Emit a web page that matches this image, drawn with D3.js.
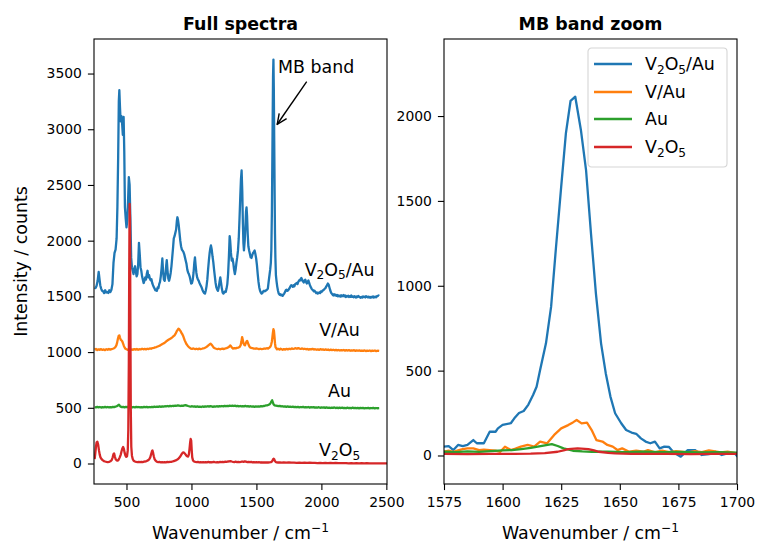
<!DOCTYPE html>
<html>
<head>
<meta charset="utf-8">
<script src="https://cdn.jsdelivr.net/npm/d3@7"></script>
<style>
  body { margin: 0; background: #fff; }
  text { font-family: "DejaVu Sans", sans-serif; }
</style>
</head>
<body>
<div id="chart"></div>
<script>
// series names, colours and stacking offsets used in the full-spectra panel
var seriesNames = ["V2O5/Au", "V/Au", "Au", "V2O5"];
var colors = ["#1f77b4", "#ff7f0e", "#2ca02c", "#d62728"];
var offsets = [1500, 1000, 500, 0];
var labelY = [1740, 1200, 650, 120];

var leftXTicks = [500, 1000, 1500, 2000, 2500];
var leftYTicks = [0, 500, 1000, 1500, 2000, 2500, 3000, 3500];
var rightXTicks = [1575, 1600, 1625, 1650, 1675, 1700];
var rightYTicks = [0, 500, 1000, 1500, 2000];

// raw spectra [wavenumber, counts]
var v2o5AuFull = [[255,80],[262,75],[270,95],[278,140],[286,220],[292,160],[298,100],[305,70],[312,50],[320,45],[328,30],[336,55],[344,35],[352,40],[360,30],[368,55],[376,40],[384,60],[392,110],[400,300],[408,390],[416,420],[424,520],[430,800],[436,1250],[441,1750],[445,1850],[450,1700],[455,1570],[460,1620],[466,1560],[472,1450],[478,1610],[483,1300],[488,800],[494,700],[500,620],[506,680],[512,850],[518,1070],[524,1000],[530,700],[536,350],[542,260],[548,230],[554,200],[560,250],[566,270],[572,220],[578,180],[584,200],[590,290],[596,480],[602,380],[608,260],[614,230],[620,180],[626,150],[632,120],[638,140],[644,170],[650,150],[656,200],[662,230],[668,170],[674,190],[680,160],[686,145],[692,155],[698,120],[704,100],[710,85],[716,70],[722,55],[728,60],[734,50],[740,80],[746,75],[752,110],[758,130],[764,180],[770,250],[776,340],[782,220],[788,150],[794,140],[800,190],[806,280],[810,325],[816,230],[822,160],[828,140],[834,170],[840,210],[846,270],[852,350],[858,430],[864,520],[870,540],[876,570],[882,600],[888,680],[892,710],[896,690],[902,640],[908,570],[914,500],[920,450],[926,420],[932,410],[938,400],[944,380],[950,350],[956,320],[962,290],[968,240],[974,215],[980,200],[986,180],[992,150],[998,115],[1004,120],[1010,150],[1016,210],[1022,300],[1027,350],[1032,280],[1038,210],[1044,170],[1050,150],[1056,140],[1062,120],[1068,105],[1074,90],[1080,75],[1086,55],[1092,40],[1098,30],[1104,25],[1110,50],[1116,90],[1122,150],[1128,240],[1134,320],[1140,390],[1145,430],[1150,457],[1156,420],[1162,360],[1168,310],[1174,240],[1180,180],[1186,120],[1192,80],[1198,60],[1204,50],[1210,80],[1216,130],[1222,170],[1228,120],[1234,70],[1240,35],[1246,25],[1252,35],[1258,45],[1264,40],[1270,70],[1276,110],[1282,200],[1288,350],[1294,540],[1298,500],[1304,390],[1310,320],[1316,340],[1322,300],[1328,240],[1334,200],[1340,240],[1346,300],[1352,350],[1358,410],[1364,520],[1370,700],[1376,900],[1381,1050],[1386,1130],[1391,950],[1396,650],[1400,480],[1404,412],[1410,500],[1416,650],[1420,760],[1424,798],[1428,720],[1433,560],[1438,450],[1444,412],[1450,380],[1456,350],[1462,345],[1468,370],[1474,390],[1480,400],[1486,412],[1492,380],[1498,340],[1504,280],[1510,200],[1516,130],[1522,80],[1528,50],[1534,35],[1540,25],[1546,30],[1552,45],[1558,50],[1564,45],[1570,50],[1576,55],[1582,60],[1588,70],[1594,130],[1600,185],[1606,240],[1611,300],[1615,420],[1619,750],[1622,1150],[1625,1580],[1628,1980],[1631,2125],[1634,1850],[1637,1400],[1640,950],[1643,560],[1646,350],[1650,190],[1655,135],[1660,90],[1666,50],[1672,25],[1678,15],[1684,20],[1690,10],[1696,15],[1702,5],[1708,15],[1714,25],[1720,40],[1726,55],[1732,60],[1738,50],[1744,55],[1750,65],[1756,75],[1762,90],[1768,100],[1774,95],[1780,85],[1786,100],[1792,90],[1798,110],[1804,115],[1810,120],[1816,110],[1822,130],[1828,140],[1834,150],[1840,145],[1846,165],[1852,150],[1858,135],[1864,125],[1870,140],[1876,150],[1882,130],[1888,115],[1894,130],[1900,143],[1906,120],[1912,100],[1918,85],[1924,70],[1930,60],[1936,55],[1942,45],[1948,50],[1954,40],[1960,30],[1966,35],[1972,25],[1978,30],[1984,35],[1990,30],[1996,45],[2002,40],[2008,50],[2014,55],[2020,60],[2026,70],[2032,75],[2038,90],[2044,100],[2050,115],[2056,105],[2062,80],[2068,55],[2074,35],[2080,25],[2086,15],[2092,8],[2098,20],[2104,10],[2110,15],[2116,5],[2122,12],[2128,0],[2134,8],[2140,5],[2146,-2],[2152,10],[2158,0],[2164,5],[2170,12],[2176,0],[2182,8],[2188,-5],[2194,3],[2200,-2],[2206,6],[2212,-6],[2218,2],[2224,-3],[2230,8],[2236,-4],[2242,0],[2248,-8],[2254,2],[2260,-5],[2266,-10],[2272,0],[2278,-6],[2284,3],[2290,-2],[2296,-8],[2302,-12],[2308,-5],[2314,-10],[2320,0],[2326,-6],[2332,-3],[2338,-10],[2344,2],[2350,-4],[2356,-8],[2362,-2],[2368,-10],[2374,-5],[2380,-12],[2386,-4],[2392,-8],[2398,0],[2404,-10],[2410,-6],[2416,-2],[2422,-8],[2428,3],[2434,5],[2440,8],[2445,4]];

var vAuFull = [[255,22],[265,28],[275,18],[285,25],[295,20],[305,27],[315,19],[325,24],[335,17],[345,26],[355,21],[365,28],[375,22],[385,26],[395,30],[405,35],[415,45],[422,60],[428,85],[434,120],[440,145],[445,150],[450,130],[456,110],[462,105],[468,95],[474,75],[480,55],[486,40],[492,30],[500,25],[510,20],[520,26],[530,18],[540,24],[550,20],[560,27],[570,22],[580,28],[590,21],[600,26],[610,24],[620,30],[630,25],[640,28],[650,24],[660,30],[670,27],[680,33],[690,30],[700,36],[710,38],[720,42],[730,45],[740,50],[750,55],[760,60],[770,68],[780,75],[790,80],[800,90],[810,100],[820,108],[830,115],[840,122],[850,130],[860,140],[870,150],[878,165],[886,185],[894,200],[900,210],[906,205],[912,195],[918,185],[924,170],[930,160],[936,145],[942,125],[948,105],[954,90],[960,75],[966,65],[972,55],[980,45],[988,38],[996,30],[1004,28],[1012,33],[1020,30],[1030,26],[1040,30],[1050,25],[1060,31],[1070,27],[1080,30],[1090,34],[1100,36],[1110,42],[1120,50],[1130,60],[1140,70],[1147,75],[1154,68],[1162,55],[1170,42],[1180,35],[1190,30],[1200,27],[1210,30],[1220,25],[1230,28],[1240,31],[1250,27],[1260,33],[1270,36],[1280,40],[1290,48],[1298,60],[1305,52],[1312,40],[1320,32],[1330,35],[1340,33],[1350,38],[1360,40],[1370,45],[1378,60],[1384,90],[1390,135],[1395,110],[1400,80],[1406,65],[1412,60],[1418,80],[1424,95],[1429,100],[1434,85],[1440,65],[1446,50],[1452,42],[1460,38],[1470,35],[1480,32],[1490,30],[1500,34],[1510,30],[1520,26],[1530,30],[1540,27],[1550,29],[1560,32],[1570,30],[1580,35],[1590,32],[1600,40],[1608,50],[1614,70],[1619,95],[1623,135],[1627,175],[1631,205],[1635,190],[1639,140],[1643,80],[1647,45],[1652,35],[1658,25],[1664,30],[1670,28],[1678,22],[1686,30],[1694,25],[1702,20],[1712,27],[1722,22],[1732,29],[1742,24],[1752,30],[1762,26],[1772,33],[1782,28],[1792,31],[1802,35],[1812,30],[1822,36],[1832,31],[1842,28],[1852,33],[1862,27],[1872,30],[1882,25],[1892,28],[1902,22],[1912,27],[1922,24],[1932,29],[1942,23],[1952,26],[1962,21],[1972,25],[1982,20],[1992,26],[2002,22],[2012,25],[2022,19],[2032,24],[2042,20],[2052,23],[2062,17],[2072,22],[2082,18],[2092,21],[2102,16],[2112,20],[2122,15],[2132,19],[2142,14],[2152,18],[2162,15],[2172,19],[2182,13],[2192,17],[2202,14],[2212,18],[2222,12],[2232,16],[2242,13],[2252,17],[2262,11],[2272,15],[2282,12],[2292,16],[2302,10],[2312,14],[2322,11],[2332,15],[2342,9],[2352,13],[2362,10],[2372,14],[2382,9],[2392,13],[2402,10],[2412,14],[2422,9],[2432,12],[2445,10]];

var auFull = [[255,6],[265,3],[275,8],[285,4],[295,7],[305,2],[315,6],[325,3],[335,8],[345,4],[355,7],[365,3],[375,6],[385,4],[395,8],[405,6],[415,10],[425,14],[435,22],[442,27],[448,18],[455,10],[465,6],[475,9],[485,4],[495,8],[505,5],[515,10],[525,6],[535,9],[545,4],[555,7],[565,3],[575,8],[585,5],[595,7],[605,3],[615,6],[625,4],[635,8],[645,5],[655,9],[665,4],[675,7],[685,5],[695,9],[705,6],[715,10],[725,7],[735,11],[745,8],[755,12],[765,9],[775,13],[785,10],[795,14],[805,12],[815,16],[825,13],[835,17],[845,14],[855,18],[865,16],[875,20],[885,18],[895,22],[905,19],[915,16],[925,20],[935,17],[945,21],[955,24],[965,20],[975,16],[985,13],[995,11],[1005,14],[1015,10],[1025,13],[1035,9],[1045,12],[1055,8],[1065,11],[1075,7],[1085,12],[1095,9],[1105,13],[1115,10],[1125,14],[1135,11],[1145,15],[1155,12],[1165,9],[1175,13],[1185,10],[1195,14],[1205,11],[1215,15],[1225,12],[1235,16],[1245,13],[1255,17],[1265,14],[1275,18],[1285,15],[1295,19],[1305,16],[1315,20],[1325,16],[1335,19],[1345,14],[1355,17],[1365,13],[1375,16],[1385,12],[1395,15],[1405,13],[1415,17],[1425,12],[1435,15],[1445,11],[1455,14],[1465,10],[1475,13],[1485,9],[1495,12],[1505,10],[1515,13],[1525,11],[1535,15],[1545,12],[1555,16],[1565,18],[1575,22],[1585,22],[1595,28],[1603,32],[1610,45],[1616,58],[1621,67],[1626,50],[1632,30],[1640,22],[1650,20],[1660,18],[1670,15],[1680,17],[1690,12],[1700,14],[1710,10],[1720,13],[1730,9],[1740,12],[1750,8],[1760,11],[1770,7],[1780,10],[1790,6],[1800,9],[1810,5],[1820,8],[1830,4],[1840,7],[1850,5],[1860,8],[1870,3],[1880,6],[1890,4],[1900,7],[1910,2],[1920,5],[1930,3],[1940,6],[1950,1],[1960,4],[1970,2],[1980,5],[1990,0],[2000,3],[2010,1],[2020,4],[2030,-1],[2040,3],[2050,0],[2060,2],[2070,-2],[2080,2],[2090,-1],[2100,3],[2110,-2],[2120,1],[2130,-3],[2140,1],[2150,-2],[2160,2],[2170,-3],[2180,0],[2190,-4],[2200,1],[2210,-2],[2220,0],[2230,-4],[2240,1],[2250,-3],[2260,0],[2270,-4],[2280,-1],[2290,-5],[2300,0],[2310,-3],[2320,-1],[2330,-5],[2340,-2],[2350,-4],[2360,0],[2370,-5],[2380,-2],[2390,-4],[2400,-1],[2410,-5],[2420,-2],[2430,-4],[2445,-3]];

var v2o5Full = [[255,40],[260,90],[265,150],[270,190],[276,195],[282,170],[288,120],[294,80],[300,55],[308,40],[316,30],[326,22],[336,18],[346,15],[356,13],[366,15],[376,20],[386,30],[394,55],[400,85],[405,90],[410,65],[416,40],[424,28],[432,25],[440,35],[448,55],[456,80],[462,110],[468,135],[474,148],[480,130],[486,95],[492,70],[498,60],[504,65],[510,120],[514,300],[518,900],[521,1700],[524,2330],[527,2200],[530,1300],[533,500],[537,150],[542,70],[548,40],[555,25],[565,18],[575,14],[585,12],[595,14],[605,12],[615,15],[625,13],[635,16],[645,18],[655,22],[665,28],[675,38],[683,55],[690,85],[696,110],[700,117],[705,95],[710,65],[716,40],[724,25],[734,16],[744,12],[754,14],[764,11],[774,13],[784,10],[794,12],[804,11],[814,14],[824,12],[834,15],[844,14],[854,18],[864,22],[874,26],[884,30],[894,38],[904,48],[912,60],[920,75],[928,90],[935,100],[942,98],[950,88],[958,75],[966,65],[974,62],[980,80],[985,130],[990,190],[994,220],[998,205],[1002,120],[1006,55],[1012,28],[1020,18],[1030,14],[1040,12],[1050,14],[1060,11],[1070,13],[1080,10],[1090,12],[1100,10],[1110,13],[1120,11],[1130,14],[1140,10],[1150,13],[1160,11],[1170,15],[1180,12],[1190,10],[1200,13],[1210,11],[1220,14],[1230,12],[1240,15],[1250,13],[1260,16],[1270,14],[1280,18],[1290,20],[1300,22],[1310,18],[1320,15],[1330,13],[1340,16],[1350,13],[1360,15],[1370,12],[1380,14],[1390,18],[1400,15],[1410,19],[1420,16],[1430,13],[1440,15],[1450,12],[1460,14],[1470,11],[1480,13],[1490,10],[1500,12],[1510,10],[1520,12],[1530,9],[1540,11],[1550,9],[1560,10],[1570,9],[1580,10],[1590,9],[1600,10],[1610,12],[1617,15],[1622,22],[1627,35],[1632,42],[1637,38],[1642,24],[1648,14],[1656,10],[1666,9],[1680,10],[1695,8],[1710,9],[1730,7],[1750,9],[1770,7],[1790,8],[1810,6],[1830,8],[1850,6],[1870,7],[1890,5],[1910,7],[1930,5],[1950,6],[1970,4],[1990,6],[2010,4],[2030,5],[2050,4],[2070,5],[2090,3],[2110,5],[2130,3],[2150,4],[2170,3],[2190,4],[2210,2],[2230,4],[2250,2],[2270,3],[2290,2],[2310,3],[2330,1],[2350,3],[2370,1],[2390,2],[2410,1],[2430,2],[2450,1],[2470,2],[2490,1],[2510,1]];

// MB band region, no offsets
var v2o5AuZoom = [[1575,52],[1577,55],[1579,32],[1581,62],[1583,55],[1585,62],[1587.5,91],[1589,72],[1592,72],[1594.5,140],[1597,140],[1598,160],[1600,180],[1603.5,190],[1605,219],[1607,250],[1609,262],[1611,300],[1613,356],[1614.5,405],[1616,504],[1618.5,661],[1620.7,877],[1622.8,1230],[1625,1584],[1627,1898],[1629,2090],[1631,2114],[1633.4,1918],[1635.6,1682],[1637.7,1309],[1639.8,955],[1642,661],[1644,485],[1646,347],[1648,249],[1650.6,190],[1652.7,150],[1655,135],[1657,128],[1659,101],[1661,82],[1663,72],[1665,82],[1667,42],[1669,52],[1671,50],[1673,18],[1676,-7],[1679,32],[1682,32],[1685,3],[1688,8],[1690.7,22],[1693.5,3],[1696,13],[1699,13],[1701.5,-26]];
var vAuZoom = [[1575,22],[1577,28],[1579,22],[1581,30],[1583,38],[1585,42],[1587.5,42],[1590,32],[1592,35],[1594.5,32],[1597,28],[1599,22],[1601,52],[1603.5,32],[1605.5,40],[1607.8,52],[1610.7,62],[1613.5,52],[1616,82],[1619,72],[1622,121],[1625,160],[1628,179],[1630,195],[1631.6,209],[1633.7,189],[1636,193],[1638,150],[1640,91],[1642.6,82],[1644.7,62],[1647,52],[1649,32],[1651,42],[1654,22],[1657,28],[1660,22],[1662,32],[1665,18],[1668,28],[1671,20],[1674,25],[1676,22],[1679,18],[1682,26],[1685,20],[1688,30],[1690.7,24],[1693,18],[1696,22],[1699,15],[1701.5,13]];
var auZoom = [[1575,22],[1580,20],[1585,24],[1590,21],[1595,26],[1600,30],[1604,32],[1608,38],[1612,45],[1615,52],[1618,60],[1621,67],[1623.5,56],[1626,42],[1630,28],[1634,24],[1638,22],[1645,22],[1652,20],[1660,22],[1668,19],[1676,21],[1684,18],[1692,20],[1701.5,16]];
var v2o5Zoom = [[1575,9],[1585,8],[1595,9],[1605,10],[1612,11],[1618,14],[1623.5,22],[1626,30],[1628,38],[1632,42],[1636.6,38],[1639,30],[1641,22],[1645,16],[1648,13],[1655,10],[1660,9],[1670,9],[1680,8],[1690,9],[1701.5,9]];

var fullSeries = [v2o5AuFull, vAuFull, auFull, v2o5Full];
var zoomSeries = [v2o5AuZoom, vAuZoom, auZoom, v2o5Zoom];

var W = 759, H = 543;
var plotTop = 39, plotBottom = 484;
var fs = 17.4;      // labels, titles, legend
var tickFs = 13.9;  // tick labels
var tick = 6.1;
var lw = 2.3;

var svg = d3.select("#chart").append("svg")
    .attr("width", W)
    .attr("height", H);

var defs = svg.append("defs");

var xL = d3.scaleLinear().domain([250, 2505]).range([94, 387]);
var yL = d3.scaleLinear().domain([-184, 3810]).range([plotBottom, plotTop]);
var xR = d3.scaleLinear().domain([1575, 1700]).range([444, 737]);
var yR = d3.scaleLinear().domain([-168, 2454]).range([plotBottom, plotTop]);

// writes V2O5 style labels with subscript digits
function richText(sel, s) {
  var parts = s.match(/\d+|[^\d]+/g);
  var shifted = false;
  parts.forEach(function (p) {
    var t = sel.append("tspan").text(p);
    if (/\d/.test(p)) {
      t.attr("font-size", "0.7em").attr("dy", 3.5);
      shifted = true;
    } else if (shifted) {
      t.attr("dy", -3.5);
      shifted = false;
    }
  });
}

function drawAxes(x, y, xTicks, yTicks, title, id) {
  var g = svg.append("g");
  defs.append("clipPath").attr("id", id)
    .append("rect")
    .attr("x", x.range()[0]).attr("y", plotTop)
    .attr("width", x.range()[1] - x.range()[0])
    .attr("height", plotBottom - plotTop);

  var ax = g.append("g")
    .attr("transform", "translate(0," + plotBottom + ")")
    .call(d3.axisBottom(x).tickValues(xTicks).tickSize(tick).tickPadding(7.5).tickFormat(d3.format("d")));
  var ay = g.append("g")
    .attr("transform", "translate(" + x.range()[0] + ",0)")
    .call(d3.axisLeft(y).tickValues(yTicks).tickSize(tick).tickPadding(6).tickFormat(d3.format("d")));
  [ax, ay].forEach(function (a) {
    a.attr("font-family", "DejaVu Sans").attr("font-size", tickFs);
    a.select(".domain").remove();
    a.selectAll("line").attr("stroke", "#000").attr("stroke-width", 1.1);
    a.selectAll("text").attr("fill", "#000");
  });

  g.append("text")
    .attr("x", (x.range()[0] + x.range()[1]) / 2)
    .attr("y", 30)
    .attr("text-anchor", "middle")
    .attr("font-weight", "bold")
    .attr("font-size", fs)
    .text(title);

  var xl = g.append("text")
    .attr("x", (x.range()[0] + x.range()[1]) / 2)
    .attr("y", 539)
    .attr("text-anchor", "middle")
    .attr("font-size", fs);
  xl.append("tspan").text("Wavenumber / cm");
  xl.append("tspan").attr("font-size", "0.7em").attr("dy", -7).text("\u22121");

  var plot = svg.append("g").attr("clip-path", "url(#" + id + ")");
  return { g: g, plot: plot };
}

var line = function (x, y, off) {
  return d3.line()
    .x(function (d) { return x(d[0]); })
    .y(function (d) { return y(d[1] + off); });
};

// left panel: stacked full spectra
var left = drawAxes(xL, yL, leftXTicks, leftYTicks, "Full spectra", "clipL");
fullSeries.forEach(function (s, i) {
  left.plot.append("path")
    .datum(s)
    .attr("d", line(xL, yL, offsets[i]))
    .attr("fill", "none")
    .attr("stroke", colors[i])
    .attr("stroke-width", lw)
    .attr("stroke-linejoin", "round");
});
seriesNames.forEach(function (n, i) {
  var t = left.g.append("text")
    .attr("x", xL(2140))
    .attr("y", yL(labelY[i]) + 6)
    .attr("text-anchor", "middle")
    .attr("font-size", fs);
  richText(t, n);
});

// MB band annotation
defs.append("marker")
  .attr("id", "arrowHead")
  .attr("viewBox", "-12 -6 13 12")
  .attr("refX", 0).attr("refY", 0)
  .attr("markerWidth", 13).attr("markerHeight", 12)
  .attr("markerUnits", "userSpaceOnUse")
  .attr("orient", "auto")
  .append("path")
  .attr("d", "M-10,-4.5 L0,0 L-10,4.5")
  .attr("fill", "none")
  .attr("stroke", "#000")
  .attr("stroke-width", 1.4);
left.g.append("line")
  .attr("x1", xL(1887)).attr("y1", yL(3427))
  .attr("x2", xL(1660)).attr("y2", yL(3045))
  .attr("stroke", "#000")
  .attr("stroke-width", 1.4)
  .attr("marker-end", "url(#arrowHead)");
left.g.append("text")
  .attr("x", xL(1666))
  .attr("y", yL(3505))
  .attr("font-size", fs)
  .text("MB band");

// right panel: zoom on the MB band
var right = drawAxes(xR, yR, rightXTicks, rightYTicks, "MB band zoom", "clipR");
zoomSeries.forEach(function (s, i) {
  right.plot.append("path")
    .datum(s)
    .attr("d", line(xR, yR, 0))
    .attr("fill", "none")
    .attr("stroke", colors[i])
    .attr("stroke-width", lw)
    .attr("stroke-linejoin", "round");
});

// frames
[xL, xR].forEach(function (x) {
  svg.append("rect")
    .attr("x", x.range()[0]).attr("y", plotTop)
    .attr("width", x.range()[1] - x.range()[0])
    .attr("height", plotBottom - plotTop)
    .attr("fill", "none")
    .attr("stroke", "#000")
    .attr("stroke-width", 1.1);
});

// legend
var lg = svg.append("g").attr("transform", "translate(588,48)");
lg.append("rect")
  .attr("width", 139).attr("height", 119)
  .attr("rx", 3.5)
  .attr("fill", "#fff").attr("fill-opacity", 0.8)
  .attr("stroke", "#d5d5d5")
  .attr("stroke-width", 1.1);
var legendRow = [16, 44, 71, 99];
seriesNames.forEach(function (n, i) {
  lg.append("line")
    .attr("x1", 6).attr("x2", 44)
    .attr("y1", legendRow[i]).attr("y2", legendRow[i])
    .attr("stroke", colors[i])
    .attr("stroke-width", lw);
  var t = lg.append("text")
    .attr("x", 57)
    .attr("y", legendRow[i] + 6)
    .attr("font-size", fs);
  richText(t, n);
});

// y label
svg.append("text")
  .attr("transform", "translate(26.5," + (plotTop + plotBottom) / 2 + ") rotate(-90)")
  .attr("text-anchor", "middle")
  .attr("font-size", fs)
  .text("Intensity / counts");
</script>
</body>
</html>
